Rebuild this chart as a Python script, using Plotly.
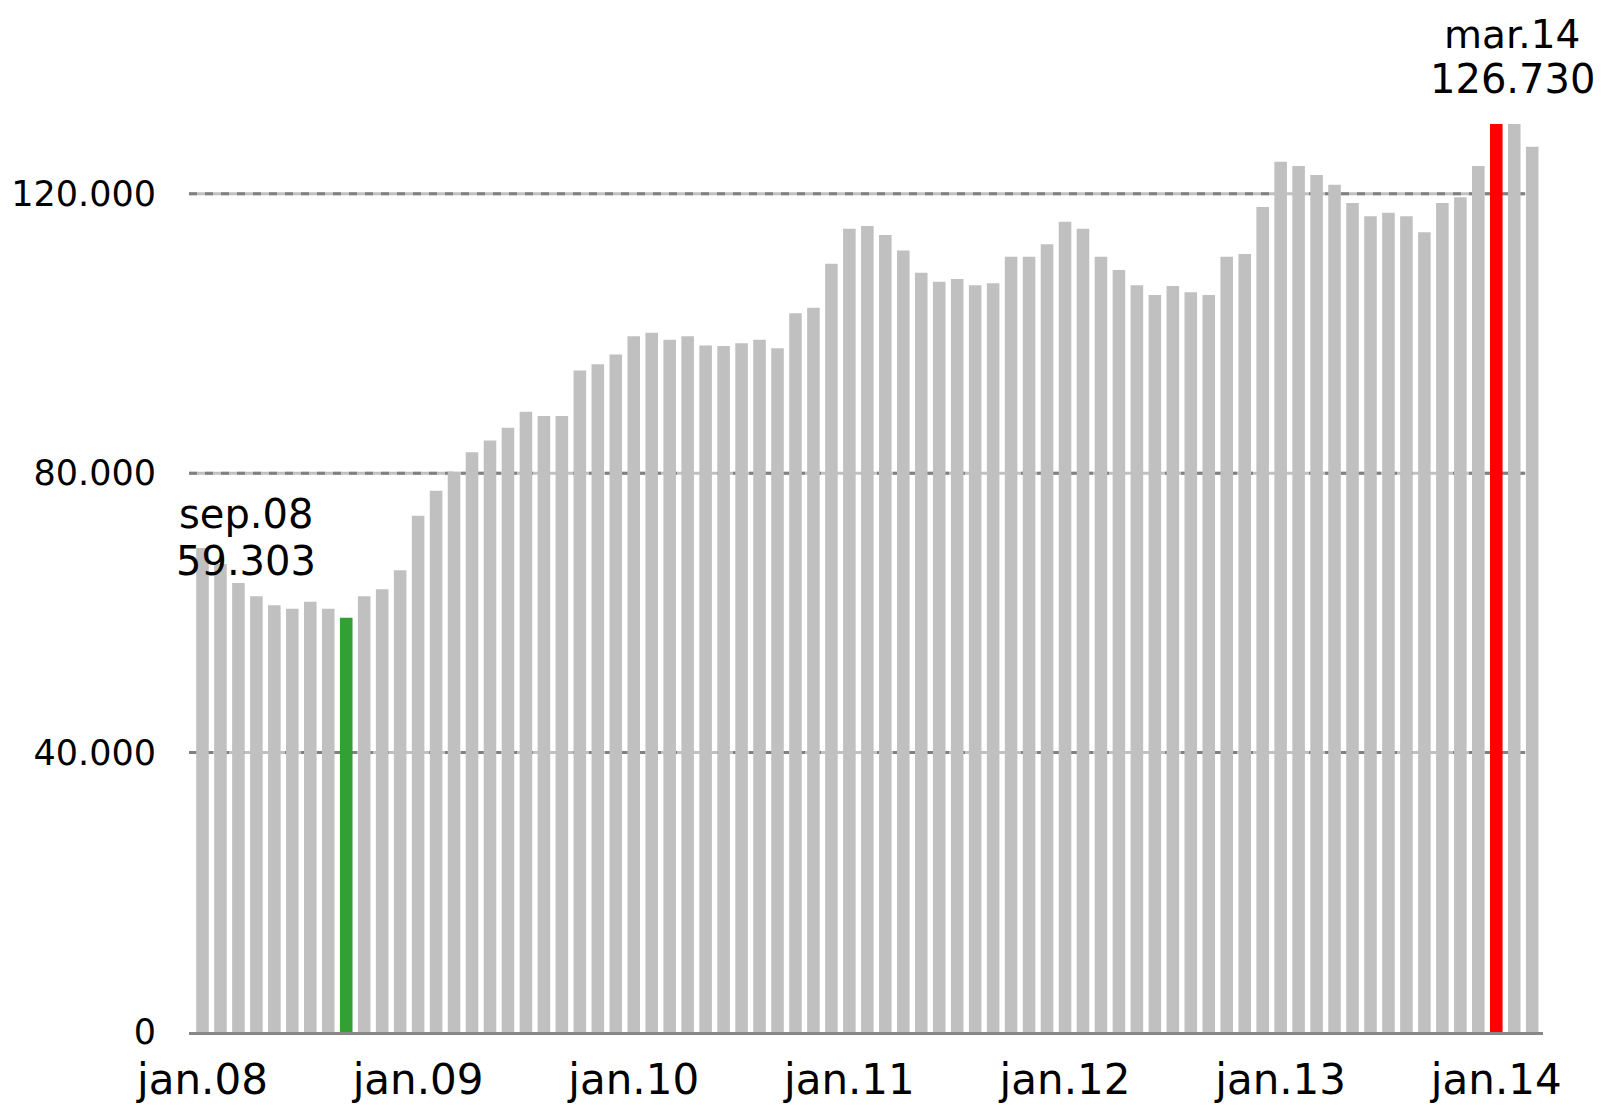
import plotly.graph_objects as go

# Monthly values, jan.08 .. mar.14 (75 months)
months = ["jan", "feb", "mar", "apr", "maj", "jun", "jul", "aug", "sep", "okt", "nov", "dec"]
years = ["08", "09", "10", "11", "12", "13", "14"]
categories = [f"{m}.{y}" for y in years for m in months][:75]

values = [
    69300, 67000, 64300, 62400, 61100, 60600, 61600, 60600, 59303, 62400, 63400, 66100,   # 2008
    73900, 77500, 80200, 83000, 84700, 86500, 88800, 88200, 88200, 94700, 95600, 97000,   # 2009
    99600, 100100, 99100, 99600, 98300, 98200, 98600, 99100, 97900, 102900, 103700, 110000,  # 2010
    115000, 115400, 114100, 111900, 108700, 107400, 107800, 106900, 107200, 111000, 111000, 112800,  # 2011
    116000, 115000, 111000, 109100, 106900, 105500, 106800, 105900, 105500, 111000, 111400, 118100,  # 2012
    124600, 124000, 122700, 121300, 118700, 116800, 117300, 116800, 114500, 118700, 119500, 124000,  # 2013
    130000, 130000, 126730,  # 2014
]

low_idx = 8
high_idx = 72
low_label = ["sep.08", "59.303"]
high_label = ["mar.14", "126.730"]

tick_idx = [0, 12, 24, 36, 48, 60, 72]
tick_text = ["jan.08", "jan.09", "jan.10", "jan.11", "jan.12", "jan.13", "jan.14"]
y_tickvals = [0, 40000, 80000, 120000]
y_ticktext = ["0", "40.000", "80.000", "120.000"]
grid_vals = [40000, 80000, 120000]

GRAY = "#c0c0c0"
colors = [GRAY] * len(values)
colors[low_idx] = "#33a033"
colors[high_idx] = "#ff0000"

FONT = "DejaVu Sans"

fig = go.Figure()
fig.add_trace(go.Bar(
    x=list(range(len(values))),
    y=values,
    marker=dict(color=colors, line=dict(width=0)),
    hovertext=categories,
    showlegend=False,
))

shapes = []
for g in grid_vals:
    shapes.append(dict(type="line", xref="x domain", yref="y", x0=0, x1=0.987, y0=g, y1=g,
                       line=dict(color=GRAY, width=3), layer="below"))
    shapes.append(dict(type="line", xref="x domain", yref="y", x0=0, x1=0.987, y0=g, y1=g,
                       line=dict(color="#808080", width=3, dash="8px,8px"), layer="below"))

# vertical positions (paper coords relative to plot area: bottom 1032px, top 124px)
H = 908.0
def py(pix):
    return (1032.0 - pix) / H

annotations = [
    dict(x=low_idx, y=py(514), xref="x", yref="paper", xshift=-100, text=low_label[0],
         showarrow=False, font=dict(family=FONT, size=40, color="black"), xanchor="center", yanchor="middle"),
    dict(x=low_idx, y=py(561), xref="x", yref="paper", xshift=-100, text=low_label[1],
         showarrow=False, font=dict(family=FONT, size=40, color="black"), xanchor="center", yanchor="middle"),
    dict(x=high_idx, y=py(34), xref="x", yref="paper", xshift=16, text=high_label[0],
         showarrow=False, font=dict(family=FONT, size=39, color="black"), xanchor="center", yanchor="middle"),
    dict(x=high_idx, y=py(79), xref="x", yref="paper", xshift=16, text=high_label[1],
         showarrow=False, font=dict(family=FONT, size=40, color="black"), xanchor="center", yanchor="middle"),
]

fig.update_layout(
    width=1601, height=1105,
    margin=dict(l=189, r=58, t=124, b=73, pad=0),
    paper_bgcolor="white", plot_bgcolor="white",
    bargap=0.3,
    font=dict(family=FONT, color="black"),
    shapes=shapes,
    annotations=annotations,
    xaxis=dict(range=[-0.75, 74.6], showgrid=False, zeroline=False, automargin=False,
               showline=True, linecolor="#888888", linewidth=3,
               tickmode="array", tickvals=tick_idx, ticktext=tick_text,
               tickfont=dict(family=FONT, size=42, color="black"),
               ticks="", ticklabelstandoff=9),
    yaxis=dict(range=[0, 130000], showgrid=False, zeroline=False, showline=False, automargin=False,
               tickmode="array", tickvals=y_tickvals, ticktext=y_ticktext,
               tickfont=dict(family=FONT, size=35, color="black"),
               ticks="", ticklabelstandoff=32),
)

fig.write_html("out.html", config={"displayModeBar": False},
               post_script="document.body.style.margin='0';")
